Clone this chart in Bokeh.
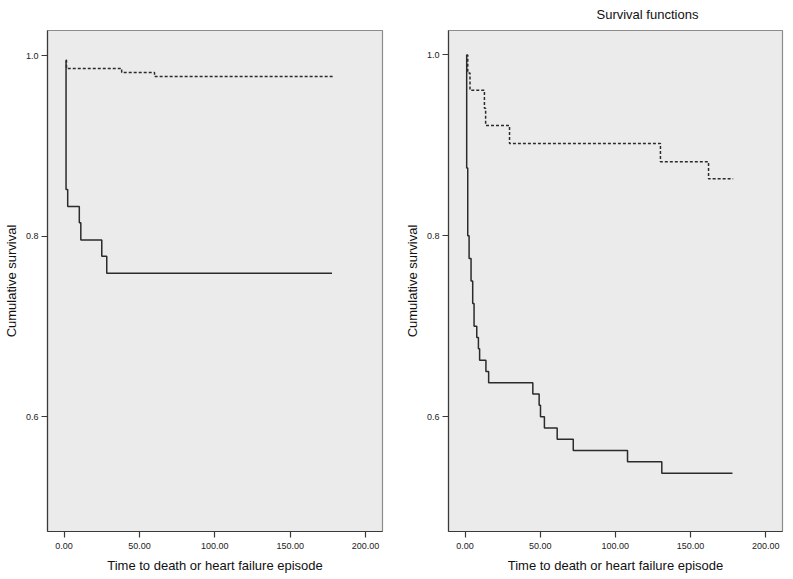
from bokeh.plotting import figure
from bokeh.models import FixedTicker, PrintfTickFormatter, Range1d, Title
from bokeh.layouts import row
from bokeh.embed import file_html
from bokeh.resources import INLINE

# ---- data ----
x_ticks = [0, 50, 100, 150, 200]
y_ticks = [0.6, 0.8, 1.0]

left_solid_t = [1.2, 1.3, 2.4, 10.1, 11.1, 25.0, 28.3, 177.7]
left_solid_s = [0.995, 0.852, 0.833, 0.815, 0.796, 0.778, 0.759, 0.759]
left_dash_t = [1.2, 1.6, 38.2, 60.0, 179.0]
left_dash_s = [0.995, 0.986, 0.9815, 0.977, 0.977]

right_solid_t = [1.0, 1.1, 1.8, 2.7, 4.0, 5.1, 6.0, 7.8, 8.9, 9.7, 13.9, 15.7,
                 45.1, 49.3, 50.2, 52.8, 61.3, 72.0, 108.1, 130.9, 177.9]
right_solid_s = [1.0, 0.875, 0.800, 0.775, 0.750, 0.725, 0.700, 0.6875, 0.675,
                 0.6625, 0.650, 0.6375, 0.625, 0.6125, 0.600, 0.5875, 0.575,
                 0.5625, 0.550, 0.5375, 0.5375]
right_dash_t = [1.0, 1.8, 3.3, 12.9, 13.7, 29.6, 130.0, 162.0, 178.4]
right_dash_s = [1.0, 0.980, 0.961, 0.941, 0.922, 0.902, 0.882, 0.863, 0.863]

x_label = "Time to death or heart failure episode"
y_label = "Cumulative survival"
title_text = "Survival functions"

FONT = "Liberation Sans"


def make_fig(width, height, mb_left, mb_right, mb_top, mb_bottom, y_lo, y_hi):
    p = figure(width=width, height=height, output_backend="svg",
               toolbar_location=None,
               x_range=Range1d(-11.0, 211.2), y_range=Range1d(y_lo, y_hi),
               min_border_left=mb_left, min_border_right=mb_right,
               min_border_top=mb_top, min_border_bottom=mb_bottom)
    p.background_fill_color = "#ebebeb"
    p.border_fill_color = "white"
    p.outline_line_color = "#8c8c8c"
    p.outline_line_width = 1.2
    p.grid.visible = False
    for ax in (p.xaxis[0], p.yaxis[0]):
        ax.axis_line_color = "#3a3a3a"
        ax.axis_line_width = 1.2
        ax.major_tick_line_color = "#3a3a3a"
        ax.major_tick_line_width = 1.2
        ax.major_tick_in = 0
        ax.major_tick_out = 6
        ax.minor_tick_line_color = None
        ax.major_label_text_font = FONT
        ax.major_label_text_font_size = "9px"
        ax.major_label_text_color = "#222222"
        ax.axis_label_text_font = FONT
        ax.axis_label_text_font_size = "13px"
        ax.axis_label_text_font_style = "normal"
        ax.axis_label_text_color = "#111111"
    p.xaxis[0].ticker = FixedTicker(ticks=x_ticks)
    p.xaxis[0].formatter = PrintfTickFormatter(format="%.2f")
    p.xaxis[0].axis_label = x_label
    p.xaxis[0].major_label_standoff = 5
    p.xaxis[0].axis_label_standoff = 6
    p.yaxis[0].ticker = FixedTicker(ticks=y_ticks)
    p.yaxis[0].formatter = PrintfTickFormatter(format="%.1f")
    p.yaxis[0].axis_label = y_label
    p.yaxis[0].major_label_standoff = 3
    p.yaxis[0].axis_label_standoff = 4
    return p


p1 = make_fig(401, 576, 47, 19, 29, 45, 0.473, 1.028)
p1.step(left_solid_t, left_solid_s, mode="after", line_color="#2b2b2b", line_width=1.5)
p1.step(left_dash_t, left_dash_s, mode="after", line_color="#2b2b2b", line_width=1.5,
        line_dash="3 2")

p2 = make_fig(390, 576, 46, 9, 0, 45, 0.473, 1.027)
p2.step(right_solid_t, right_solid_s, mode="after", line_color="#2b2b2b", line_width=1.5)
p2.step(right_dash_t, right_dash_s, mode="after", line_color="#2b2b2b", line_width=1.5,
        line_dash="3 2")
p2.add_layout(Title(text=title_text, align="left", offset=148, text_font=FONT,
                    text_font_size="13px", text_font_style="normal",
                    vertical_align="top", text_color="#111111", standoff=13), "above")

layout = row(p1, p2)
open("out.html", "w").write(file_html(layout, INLINE))
